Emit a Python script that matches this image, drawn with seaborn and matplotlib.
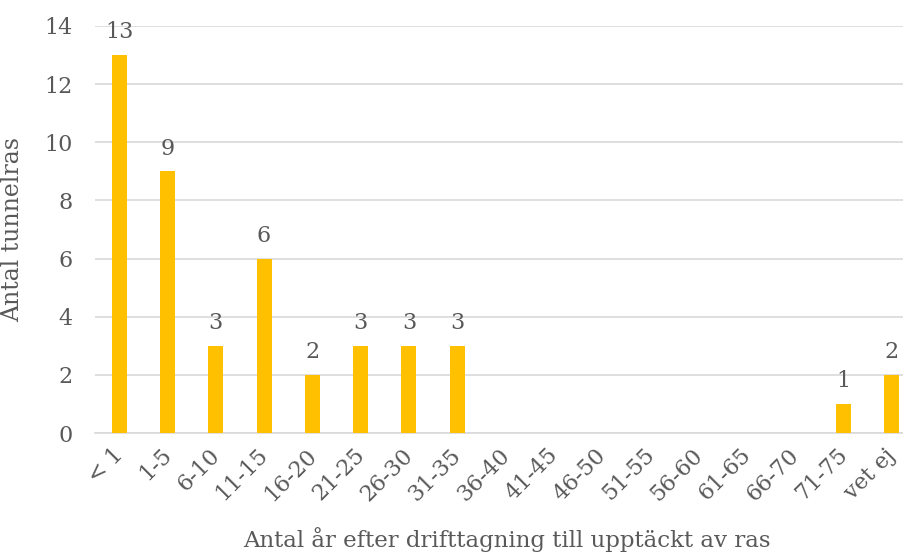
import numpy as np
import pandas as pd
import matplotlib
matplotlib.use("Agg")
import matplotlib.pyplot as plt
import matplotlib.transforms as mtransforms
import seaborn as sns

# Data
categories = ["< 1", "1-5", "6-10", "11-15", "16-20", "21-25", "26-30", "31-35",
              "36-40", "41-45", "46-50", "51-55", "56-60", "61-65", "66-70",
              "71-75", "vet ej"]
counts = [13, 9, 3, 6, 2, 3, 3, 3, 0, 0, 0, 0, 0, 0, 0, 1, 2]
y_ticks = [0, 2, 4, 6, 8, 10, 12, 14]

df = pd.DataFrame({"Kategori": categories, "Antal": counts})

sns.set_style("white")
plt.rcParams["font.family"] = ["DejaVu Serif"]
gray = "#595959"

fig = plt.figure(figsize=(9.04, 5.54), dpi=100)
ax = fig.add_axes([95 / 904, 1 - 433 / 554, 821 / 904, 407 / 554])

sns.barplot(data=df, x="Kategori", y="Antal", color="#FFC000", width=0.31,
            saturation=1, linewidth=0, ax=ax, zorder=3)

ax.set_ylim(0, 14)
ax.set_xlim(-0.5, len(categories) - 0.5)
ax.set_yticks(y_ticks)
ax.grid(axis="y", color="#D9D9D9", linewidth=1.2, zorder=0)
ax.set_axisbelow(True)
for s in ["top", "right", "left"]:
    ax.spines[s].set_visible(False)
ax.spines["bottom"].set_color("#D9D9D9")
ax.spines["bottom"].set_linewidth(1.2)
ax.tick_params(axis="both", length=0, labelsize=16, colors=gray)
ax.tick_params(axis="x", pad=8)
ax.tick_params(axis="y", pad=16)
shift = mtransforms.ScaledTranslation(-7 / 100, 0, fig.dpi_scale_trans)
for lbl in ax.get_xticklabels():
    lbl.set_rotation(45)
    lbl.set_ha("right")
    lbl.set_rotation_mode("anchor")
    lbl.set_transform(lbl.get_transform() + shift)

# labels above non-zero bars
for i, v in enumerate(counts):
    if v > 0:
        ax.text(i, v + 0.4, str(v), ha="center", va="bottom", fontsize=16, color=gray)

ax.set_xlabel("Antal år efter drifttagning till upptäckt av ras", fontsize=16.5,
              color=gray)
ax.set_ylabel("Antal tunnelras", fontsize=17, color=gray)
ax.xaxis.set_label_coords(0.502, -0.232)
ax.yaxis.set_label_coords((24 - 95) / 821, 0.5)

fig.savefig("out.png", dpi=100)
